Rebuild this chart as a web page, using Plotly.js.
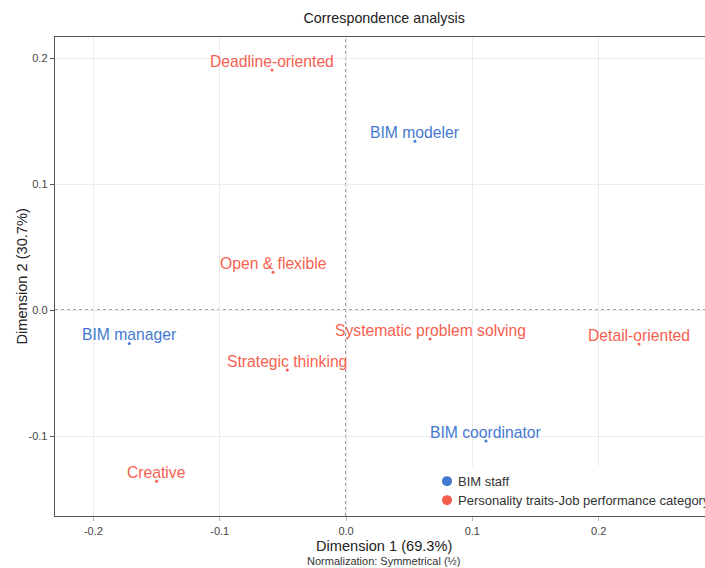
<!DOCTYPE html>
<html>
<head>
<meta charset="utf-8">
<script src="https://cdn.plot.ly/plotly-3.0.1.min.js"></script>
<style>html,body{margin:0;padding:0;background:#fff;}#chart{width:705px;height:568px;}</style>
</head>
<body>
<div id="chart"></div>
<script>
// BIM staff (row points)
const staffLabels = ["BIM modeler", "BIM manager", "BIM coordinator"];
const staffDim1 = [0.0546, -0.1716, 0.1108];
const staffDim2 = [0.134, -0.0265, -0.104];

// Personality traits-Job performance category (column points)
const traitLabels = ["Deadline-oriented", "Open & flexible", "Strategic thinking", "Creative",
                     "Systematic problem solving", "Detail-oriented"];
const traitDim1 = [-0.0586, -0.0578, -0.0465, -0.150, 0.0665, 0.232];
const traitDim2 = [0.1905, 0.030, -0.0476, -0.136, -0.023, -0.027];

const xTicks = [-0.2, -0.1, 0.0, 0.1, 0.2];
const xTickText = ["-0.2", "-0.1", "0.0", "0.1", "0.2"];
const yTicks = [-0.1, 0.0, 0.1, 0.2];
const yTickText = ["-0.1", "0.0", "0.1", "0.2"];

const blue = "#4479d2";
const red = "#f65f50";
const FONT = "Liberation Sans, Arial, sans-serif";

const traces = [
  {
    type: "scatter", mode: "markers", name: "BIM staff",
    x: staffDim1, y: staffDim2, text: staffLabels,
    marker: {color: blue, size: 3},
    hoverinfo: "text"
  },
  {
    type: "scatter", mode: "markers", name: "Personality traits-Job performance category",
    x: traitDim1, y: traitDim2, text: traitLabels,
    marker: {color: red, size: 3},
    hoverinfo: "text"
  }
];

function labelAnnotations(xs, ys, labels, color) {
  return labels.map(function (t, i) {
    return {text: t, x: xs[i], y: ys[i], xref: "x", yref: "y",
            xanchor: "center", yanchor: "middle", yshift: 8.5, showarrow: false,
            font: {family: FONT, size: 15.7, color: color}};
  });
}

const annotations = []
  .concat(labelAnnotations(staffDim1, staffDim2, staffLabels, blue))
  .concat(labelAnnotations(traitDim1, traitDim2, traitLabels, red))
  .concat([
    {text: "Dimension 1 (69.3%)", xref: "paper", yref: "paper",
     x: 0.506, y: -0.063, xanchor: "center", yanchor: "middle", showarrow: false,
     font: {family: FONT, size: 14.6, color: "#222"}},
    {text: "Normalization: Symmetrical (½)", xref: "paper", yref: "paper",
     x: 0.505, y: -0.094, xanchor: "center", yanchor: "middle", showarrow: false,
     font: {family: FONT, size: 11, color: "#333"}},
    {text: "Dimension 2 (30.7%)", xref: "paper", yref: "paper", textangle: -90,
     x: -0.0508, y: 0.5, xanchor: "center", yanchor: "middle", showarrow: false,
     font: {family: FONT, size: 14.6, color: "#222"}}
  ]);

const layout = {
  width: 705, height: 568,
  paper_bgcolor: "#fff", plot_bgcolor: "#fff",
  font: {family: FONT, color: "#333"},
  margin: {l: 55, r: 0, t: 37, b: 52, autoexpand: false},
  title: {text: "Correspondence analysis", font: {family: FONT, size: 14.3, color: "#222"},
          x: 0.545, xanchor: "center", y: 0.968, yanchor: "middle"},
  xaxis: {
    range: [-0.2304, 0.2842],
    tickvals: xTicks, ticktext: xTickText,
    tickfont: {family: FONT, size: 11, color: "#444"},
    showgrid: true, gridcolor: "#ebebeb", gridwidth: 1,
    zeroline: false,
    showline: true, linecolor: "#555", linewidth: 1.3, mirror: true,
    ticks: "outside", ticklen: 4, tickcolor: "#bbb"
  },
  yaxis: {
    range: [-0.1635, 0.2167],
    tickvals: yTicks, ticktext: yTickText,
    tickfont: {family: FONT, size: 11, color: "#444"},
    showgrid: true, gridcolor: "#ebebeb", gridwidth: 1,
    zeroline: false,
    showline: true, linecolor: "#555", linewidth: 1.3, mirror: false,
    ticks: "outside", ticklen: 4, tickcolor: "#555"
  },
  shapes: [
    {type: "line", xref: "x", yref: "paper", x0: 0, x1: 0, y0: 0, y1: 1,
     line: {color: "#555", width: 1.2, dash: "3px,3px"}, layer: "below"},
    {type: "line", xref: "paper", yref: "y", x0: 0, x1: 1, y0: 0, y1: 0,
     line: {color: "#555", width: 1.2, dash: "3px,3px"}, layer: "below"}
  ],
  annotations: annotations,
  legend: {
    x: (427 - 55) / 650, y: 0.104, xanchor: "left", yanchor: "top",
    bgcolor: "rgba(255,255,255,1)",
    font: {family: FONT, size: 13, color: "#333"},
    itemsizing: "constant", tracegroupgap: 0
  },
  showlegend: true
};

Plotly.newPlot("chart", traces, layout, {displayModeBar: false, staticPlot: true}).then(function (gd) {
  // legend symbol size and compact spacing like the reference
  gd.querySelectorAll(".legend .scatterpts").forEach(function (p) {
    p.setAttribute("d", "M5,0A5,5 0 1,1 0,-5A5,5 0 0,1 5,0Z");
  });
  gd.querySelectorAll(".legend .legendtext").forEach(function (t) {
    t.setAttribute("x", "31");
  });
  const items = gd.querySelectorAll(".legend .traces");
  if (items.length > 1) {
    const m = /translate\(([-\d.]+),\s*([-\d.]+)\)/.exec(items[0].getAttribute("transform") || "");
    if (m) {
      const x0 = parseFloat(m[1]), y0 = parseFloat(m[2]);
      items[1].setAttribute("transform", "translate(" + x0 + "," + (y0 + 19) + ")");
    }
  }
});
</script>
</body>
</html>
